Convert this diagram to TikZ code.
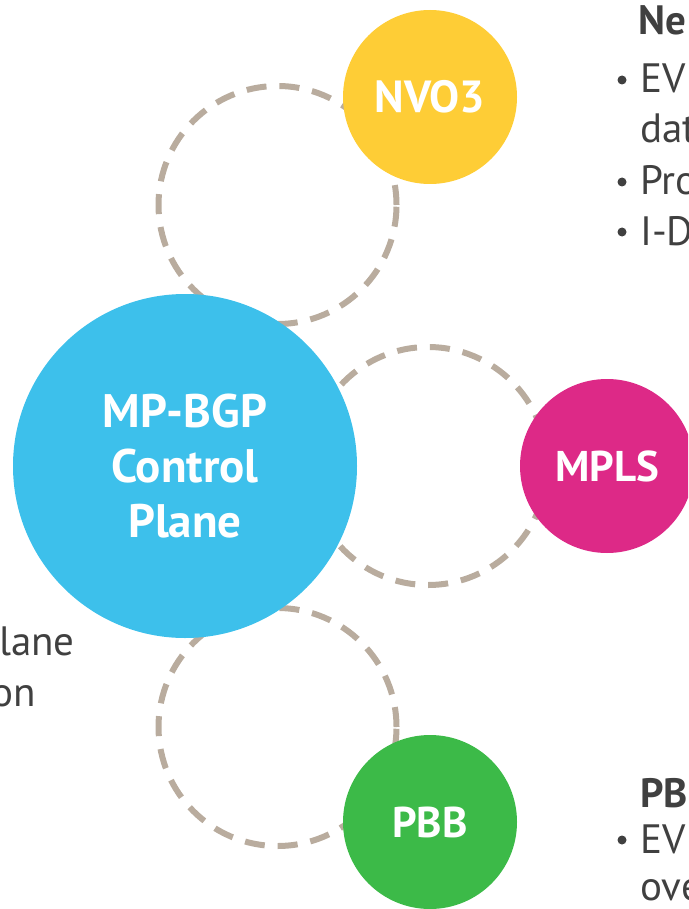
\documentclass[tikz,border=0pt]{standalone}
\usepackage{fontspec}
\setmainfont{PT Sans}

\definecolor{bgpblue}{RGB}{61,192,235}
\definecolor{nvoyellow}{RGB}{254,205,54}
\definecolor{mplspink}{RGB}{221,41,135}
\definecolor{pbbgreen}{RGB}{60,186,72}
\definecolor{ringgray}{RGB}{185,172,158}
\definecolor{textgray}{RGB}{64,64,64}

\tikzset{
    ring/.style={circle, draw=ringgray, line width=6pt, dash pattern=on 20pt off 13pt,
        minimum size=238pt, inner sep=0pt},
    tech/.style={circle, fill=#1, minimum size=174pt, inner sep=0pt, text=white,
        font=\fontsize{43}{44}\selectfont\bfseries},
    bodytext/.style={text=textgray, inner sep=0pt, font=\fontsize{41}{50}\selectfont},
    bulletdot/.style={circle, fill=textgray, minimum size=9pt, inner sep=0pt}
}

\begin{document}
\begin{tikzpicture}[x=1pt, y=-1pt]
    \useasboundingbox (0,0) rectangle (688,909);
    \clip (0,0) rectangle (688,909);

    % Dashed rings behind the circles
    \node[ring] (ringtop) at (277.5,205) {};
    \node[ring] (ringmid) at (428,466) {};
    \node[ring] (ringbot) at (277.5,727) {};

    % Control plane circle
    \node[tech=bgpblue, minimum size=344pt, align=center,
        font=\fontsize{47}{55}\selectfont\bfseries] (bgp) at (185,466)
        {MP-BGP\\Control\\Plane};

    % Encapsulation circles
    \node[tech=nvoyellow, font=\fontsize{45}{46}\selectfont\bfseries] (nvo) at (430,97) {NVO3};
    \node[tech=mplspink] (mpls) at (607,466) {MPLS};
    \node[tech=pbbgreen] (pbb) at (430,822) {PBB};

    % Text on the right, top
    \node[bodytext, anchor=base west, font=\fontsize{41}{50}\selectfont\bfseries] (nvohead) at (638,35) {Ne};
    \node[bulletdot] (dotA) at (622,80) {};
    \node[bodytext, anchor=base west] (nvoA) at (640,93) {EV};
    \node[bodytext, anchor=base west] (nvoB) at (640,143) {dat};
    \node[bulletdot] (dotB) at (622,182) {};
    \node[bodytext, anchor=base west] (nvoC) at (640,195) {Pro};
    \node[bulletdot] (dotC) at (622,232) {};
    \node[bodytext, anchor=base west] (nvoD) at (640,245) {I-D};

    % Text on the right, bottom
    \node[bodytext, anchor=base west, font=\fontsize{41}{50}\selectfont\bfseries] (pbbhead) at (640,807) {PB};
    \node[bulletdot] (dotD) at (622,840) {};
    \node[bodytext, anchor=base west] (pbbA) at (640,853) {EV};
    \node[bodytext, anchor=base west] (pbbB) at (640,900) {ove};

    % Text on the left
    \node[bodytext, anchor=base east] (leftA) at (75,655) {lane};
    \node[bodytext, anchor=base east] (leftB) at (36,706) {on};
\end{tikzpicture}
\end{document}
